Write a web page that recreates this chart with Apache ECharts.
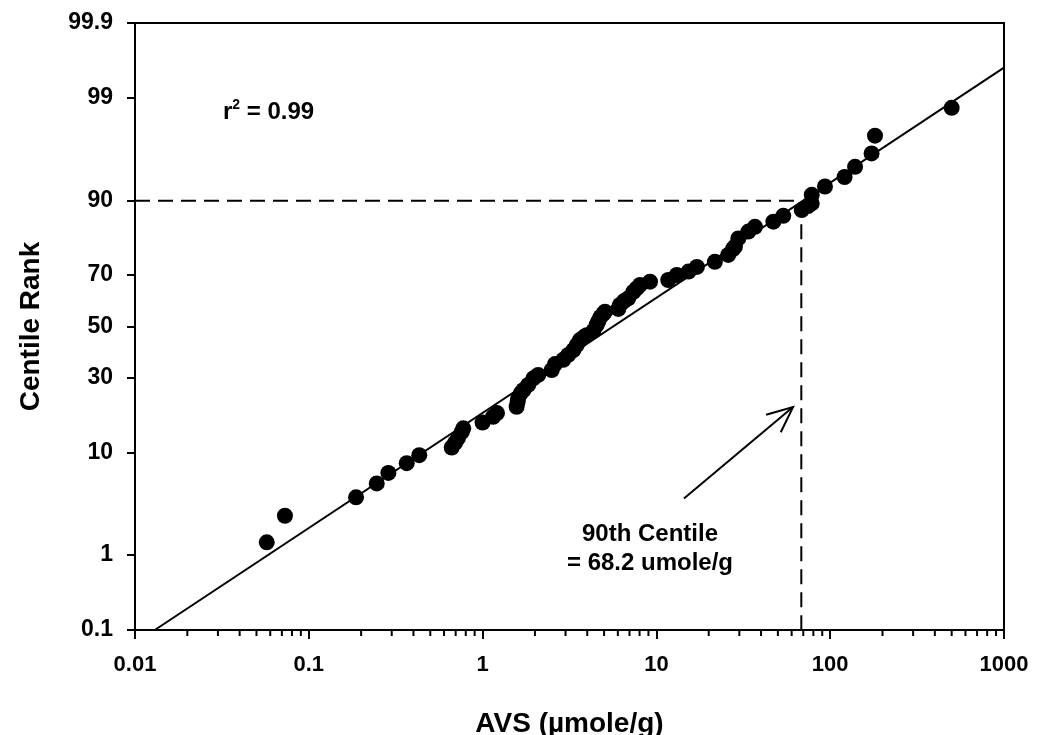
<!DOCTYPE html>
<html>
<head>
<meta charset="utf-8">
<script src="https://cdn.jsdelivr.net/npm/echarts@6/dist/echarts.min.js"></script>
<style>html,body{margin:0;padding:0;background:#fff}#c{width:1046px;height:735px}</style>
</head>
<body>
<div id="c"></div>
<script>
// ---- data ----
const avs = [0.0573,0.0729,0.187,0.246,0.287,0.366,0.432,0.664,0.694,0.722,0.758,0.774,1.00,1.15,1.21,1.57,1.59,1.60,1.66,1.72,1.83,1.96,2.09,2.50,2.61,2.91,3.11,3.33,3.48,3.63,3.83,3.97,4.34,4.53,4.64,4.77,4.95,5.06,6.04,6.17,6.51,6.89,7.37,7.70,8.05,9.19,11.7,13.1,15.3,17.1,21.7,25.9,27.6,28.3,29.6,33.8,36.9,47.1,53.7,68.6,74.5,78.3,78.3,93.3,121,139,173,181,500];
const centile = [1.4,2.7,4.1,5.5,6.8,8.2,9.5,10.9,11.8,12.8,14.1,15.0,16.4,17.9,18.9,20.7,22.1,23.2,24.9,25.9,27.6,29.9,31.1,32.9,35.1,36.7,38.6,40.5,42.5,44.5,45.7,46.5,48.2,50.6,52.2,53.9,55.1,56.0,57.1,58.7,60.2,61.3,63.8,65.1,66.4,67.6,68.2,70.0,71.2,72.8,74.5,76.7,78.5,79.2,81.5,83.3,84.5,85.7,87.0,88.2,89.0,89.5,91.0,92.3,93.6,94.8,96.1,97.4,98.7];
const fitX = [0.013, 1000];
const fitCentile = [0.1, 99.58];
const refX = 68.2;
const refCentile = 90;
const arrowX = [14.4, 61.1];
const arrowCentile = [4.0, 20.6];
const yTickLabels = [0.1, 1, 10, 30, 50, 70, 90, 99, 99.9];
const xTickLabels = [0.01, 0.1, 1, 10, 100, 1000];
const xMinorTicks = [];
for (const d of [0.01, 0.1, 1, 10, 100]) for (let k = 2; k <= 9; k++) xMinorTicks.push(+(d * k).toPrecision(3));

// normal-probability scale transform (inverse normal CDF)
function probit(pct) {
  const p = pct / 100;
  const a=[-3.969683028665376e+01,2.209460984245205e+02,-2.759285104469687e+02,1.383577518672690e+02,-3.066479806614716e+01,2.506628277459239e+00];
  const b=[-5.447609879822406e+01,1.615858368580409e+02,-1.556989798598866e+02,6.680131188771972e+01,-1.328068155288572e+01];
  const c=[-7.784894002430293e-03,-3.223964580411365e-01,-2.400758277161838e+00,-2.549671348754381e+00,4.374664141464968e+00,2.938163982698783e+00];
  const d=[7.784695709041462e-03,3.224671290700398e-01,2.445134137142996e+00,3.754408661907416e+00];
  const pl = 0.02425, ph = 1 - pl; let q, r;
  if (p < pl) { q = Math.sqrt(-2*Math.log(p)); return (((((c[0]*q+c[1])*q+c[2])*q+c[3])*q+c[4])*q+c[5])/((((d[0]*q+d[1])*q+d[2])*q+d[3])*q+1); }
  if (p > ph) { q = Math.sqrt(-2*Math.log(1-p)); return -(((((c[0]*q+c[1])*q+c[2])*q+c[3])*q+c[4])*q+c[5])/((((d[0]*q+d[1])*q+d[2])*q+d[3])*q+1); }
  q = p - 0.5; r = q*q;
  return (((((a[0]*r+a[1])*r+a[2])*r+a[3])*r+a[4])*r+a[5])*q/(((((b[0]*r+b[1])*r+b[2])*r+b[3])*r+b[4])*r+1);
}

const yMin = probit(0.1), yMax = probit(99.9);
const yTickZ = yTickLabels.map(probit);
const FONT = '"Liberation Sans", Arial, Helvetica, sans-serif';

const chart = echarts.init(document.getElementById('c'), null, {renderer: 'canvas'});
chart.setOption({
  animation: false,
  backgroundColor: '#fff',
  grid: {left: 135, right: 42, top: 23, bottom: 105, outerBoundsMode: 'none', containLabel: false,
    show: true, borderColor: '#000', borderWidth: 2, backgroundColor: 'transparent'},
  xAxis: {
    type: 'log', logBase: 10, min: 0.01, max: 1000,
    name: 'AVS (\u00b5mole/g)', nameLocation: 'middle', nameGap: 80,
    nameTextStyle: {fontFamily: FONT, fontWeight: 'bold', fontSize: 28, color: '#000'},
    axisLine: {show: true, onZero: false, lineStyle: {color: '#000', width: 2}},
    axisTick: {show: true, inside: false, length: 9, lineStyle: {color: '#000', width: 2}},
    axisLabel: {margin: 24, fontFamily: FONT, fontWeight: 'bold', fontSize: 22, color: '#000',
      formatter: v => String(+(+v).toPrecision(3))},
    splitLine: {show: false}, minorTick: {show: false}
  },
  yAxis: {
    type: 'value', min: yMin, max: yMax,
    name: 'Centile Rank', nameLocation: 'middle', nameGap: 90, nameRotate: 90,
    nameTextStyle: {fontFamily: FONT, fontWeight: 'bold', fontSize: 28, color: '#000'},
    axisLine: {show: true, onZero: false, lineStyle: {color: '#000', width: 2}},
    axisTick: {show: true, inside: false, length: 8, customValues: yTickZ, lineStyle: {color: '#000', width: 2}},
    axisLabel: {margin: 22, fontFamily: FONT, fontWeight: 'bold', fontSize: 23, color: '#000', customValues: yTickZ,
      formatter: v => { let best = 0, bd = 1e9; yTickZ.forEach((z, i) => { const dd = Math.abs(z - v); if (dd < bd) { bd = dd; best = i; } }); return String(yTickLabels[best]); }},
    splitLine: {show: false}
  },
  series: [
    {
      type: 'custom', name: 'minorTicks', silent: true, clip: false,
      data: xMinorTicks.map(v => [v, yMin]),
      encode: {x: 0, y: 1},
      renderItem: (params, api) => {
        const p = api.coord([api.value(0), api.value(1)]);
        return {type: 'line', shape: {x1: p[0], y1: p[1], x2: p[0], y2: p[1] + 6}, style: {stroke: '#000', lineWidth: 2}};
      }
    },
    {
      type: 'line', name: 'ref', silent: true, symbol: 'none',
      data: [[0.01, probit(refCentile)], [refX, probit(refCentile)], [refX, yMin]],
      lineStyle: {color: '#000', width: 2, type: [15, 8]}, z: 2
    },
    {
      type: 'line', name: 'fit', silent: true, symbol: 'none',
      data: fitX.map((x, i) => [x, probit(fitCentile[i])]),
      lineStyle: {color: '#000', width: 2}, z: 3
    },
    {
      type: 'custom', name: 'arrow', silent: true, clip: false,
      data: [[arrowX[0], probit(arrowCentile[0]), arrowX[1], probit(arrowCentile[1])]],
      renderItem: (params, api) => {
        const a = api.coord([api.value(0), api.value(1)]);
        const b = api.coord([api.value(2), api.value(3)]);
        const ang = Math.atan2(b[1] - a[1], b[0] - a[0]);
        const L = 28, w = 0.42;
        const w1 = [b[0] - L * Math.cos(ang - w), b[1] - L * Math.sin(ang - w)];
        const w2 = [b[0] - L * Math.cos(ang + w), b[1] - L * Math.sin(ang + w)];
        return {type: 'group', children: [
          {type: 'line', shape: {x1: a[0], y1: a[1], x2: b[0], y2: b[1]}, style: {stroke: '#000', lineWidth: 2}},
          {type: 'polyline', shape: {points: [w1, b, w2]}, style: {stroke: '#000', lineWidth: 2, fill: null}}
        ]};
      }
    },
    {
      type: 'scatter', name: 'AVS', symbol: 'circle', symbolSize: 16,
      itemStyle: {color: '#000', opacity: 1},
      data: avs.map((x, i) => [x, probit(centile[i])]), z: 4
    }
  ],
  graphic: [
    {type: 'text', x: 223, y: 112, style: {
      text: '{a|r}{s|2}{a| = 0.99}', textVerticalAlign: 'middle',
      rich: {a: {fontFamily: FONT, fontWeight: 'bold', fontSize: 24, fill: '#000', lineHeight: 28},
             s: {fontFamily: FONT, fontWeight: 'bold', fontSize: 14, fill: '#000', verticalAlign: 'top', lineHeight: 28, padding: [0, 0, 13, 0]}}
    }},
    {type: 'text', x: 650, y: 534, style: {text: '90th Centile', textAlign: 'center', textVerticalAlign: 'middle',
      font: 'bold 24px ' + FONT, fill: '#000'}},
    {type: 'text', x: 650, y: 563, style: {text: '= 68.2 umole/g', textAlign: 'center', textVerticalAlign: 'middle',
      font: 'bold 24px ' + FONT, fill: '#000'}}
  ]
});
</script>
</body>
</html>
